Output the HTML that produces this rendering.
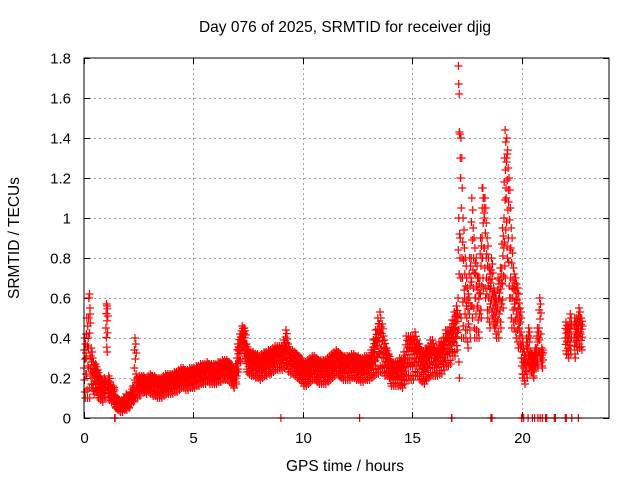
<!DOCTYPE html>
<html><head><meta charset="utf-8"><style>
html,body{margin:0;padding:0;background:#fff;}
svg{display:block;font-family:"Liberation Sans",sans-serif;}
</style></head><body>
<svg id="chart" width="640" height="480" viewBox="0 0 640 480">
<text x="345" y="32" font-size="15.5" text-anchor="middle">Day 076 of 2025, SRMTID for receiver djig</text>
<text x="345" y="471" font-size="15.5" text-anchor="middle">GPS time / hours</text>
<text x="19" y="238" font-size="15.5" text-anchor="middle" transform="rotate(-90 19 238)">SRMTID / TECUs</text>
<g id="grid"></g>
<g id="ticks"></g>
<g id="points"></g>
<rect x="84" y="58" width="525" height="360" fill="none" stroke="#000" stroke-width="1"/>
</svg>
<script>
const xTicks = [0,5,10,15,20];
const yTicks = [0,0.2,0.4,0.6,0.8,1,1.2,1.4,1.6,1.8];
const yTickLabels = ["0","0.2","0.4","0.6","0.8","1","1.2","1.4","1.6","1.8"];
const startHour = 0;
const binHours = 0.1;
const baseValues = [
.25,.3,.35,.25,.2,.2,.17,.15,.13,.15,
.45,.15,.12,.12,.08,.07,.06,.06,.07,.08,
.08,.1,.12,.25,.15,.16,.17,.17,.16,.17,
.17,.16,.16,.15,.15,.15,.16,.17,.17,.17,
.17,.18,.18,.19,.2,.2,.19,.19,.2,.2,
.2,.21,.21,.22,.22,.22,.23,.22,.22,.22,
.22,.23,.23,.24,.24,.24,.23,.22,.2,.22,
.3,.35,.4,.38,.3,.28,.27,.27,.26,.26,
.25,.26,.27,.27,.28,.28,.29,.3,.3,.3,
.3,.32,.35,.3,.28,.28,.27,.26,.25,.24,
.22,.22,.23,.24,.25,.25,.24,.23,.23,.23,
.23,.24,.25,.26,.27,.28,.27,.26,.25,.25,
.25,.25,.26,.26,.25,.25,.24,.24,.25,.25,
.25,.27,.3,.33,.36,.38,.35,.3,.28,.26,
.22,.22,.22,.22,.23,.22,.25,.3,.3,.3,
.3,.32,.3,.28,.26,.25,.27,.28,.3,.3,
.28,.28,.3,.3,.32,.35,.35,.36,.4,.42,
.45,.6,.9,.7,.6,.5,.6,.8,.65,.6,
.55,.7,.9,.85,.7,.6,.65,.55,.5,.55,
.6,.75,1.0,1.1,.9,.7,.6,.55,.5,.45,
.3,.25,.3,.35,.28,.25,.3,.35,.45,.3,
null,null,null,null,null,null,null,null,null,null,
.4,.38,.42,null,.4,.42,.45,.42];
const spreadValues = [
.15,.2,.25,.1,.08,.07,.07,.06,.05,.05,
.12,.06,.04,.04,.03,.03,.03,.03,.03,.04,
.03,.03,.04,.15,.05,.05,.04,.04,.04,.04,
.05,.05,.05,.05,.05,.05,.05,.05,.05,.05,
.05,.05,.05,.05,.05,.05,.05,.05,.05,.05,
.05,.05,.05,.05,.05,.05,.05,.05,.05,.05,
.05,.05,.05,.05,.05,.05,.05,.05,.05,.05,
.07,.07,.06,.07,.07,.06,.06,.06,.06,.06,
.06,.06,.06,.06,.06,.06,.06,.06,.06,.06,
.06,.07,.09,.07,.06,.06,.06,.06,.06,.06,
.06,.06,.06,.06,.06,.06,.06,.06,.06,.06,
.06,.06,.06,.06,.06,.06,.06,.06,.06,.06,
.06,.06,.06,.06,.06,.06,.06,.06,.06,.06,
.06,.07,.09,.11,.14,.15,.12,.09,.07,.06,
.06,.06,.06,.06,.07,.07,.08,.11,.11,.11,
.11,.11,.09,.09,.08,.08,.08,.08,.09,.09,
.07,.07,.08,.08,.08,.09,.09,.09,.09,.11,
.11,.4,.5,.3,.2,.15,.2,.3,.25,.2,
.15,.2,.25,.25,.2,.15,.15,.1,.1,.15,
.15,.2,.3,.3,.3,.25,.15,.15,.15,.1,
.1,.08,.1,.1,.05,.05,.05,.1,.15,.05,
0,0,0,0,0,0,0,0,0,0,
.08,.08,.1,0,.1,.08,.1,.08];
const outlierTimes = [0.22,0.25,0.28,1.05,17.12,17.13,17.15,17.16,17.18,17.2,17.22,18.2,18.25,18.3,19.25,19.28,19.32,19.35,19.4];
const outlierValues = [0.6,0.62,0.52,0.56,1.76,1.67,1.62,1.43,1.42,1.3,1.2,1.15,1.1,1.05,1.44,1.38,1.3,1.32,1.14];
const zeroTimes = [1.4,1.42,9.0,12.6,16.8,16.82,18.6,18.65,20.0,20.02,20.1,20.3,20.5,20.6,20.75,20.85,20.95,21.1,21.15,21.5,21.55,22.0,22.05,22.3,22.6];

const NS = "http://www.w3.org/2000/svg";
const L = 84, R = 609, T = 58, B = 418;
const xMax = 24, yMax = 1.8;
function xs(v){ return L + v / xMax * (R - L); }
function ys(v){ return B - v / yMax * (B - T); }

const grid = document.getElementById('grid');
const ticks = document.getElementById('ticks');
function line(parent, x1, y1, x2, y2, stroke, dash, name){
  const l = document.createElementNS(NS, 'line');
  l.setAttribute('x1', x1); l.setAttribute('y1', y1);
  l.setAttribute('x2', x2); l.setAttribute('y2', y2);
  l.setAttribute('stroke', stroke); l.setAttribute('stroke-width', 1);
  if (dash) l.setAttribute('stroke-dasharray', dash);
  
  
  parent.appendChild(l);
}
function label(x, y, txt, anchor, name){
  const t = document.createElementNS(NS, 'text');
  t.setAttribute('x', x); t.setAttribute('y', y);
  t.setAttribute('font-size', 15);
  t.setAttribute('text-anchor', anchor);
  t.textContent = txt;
  
  
  ticks.appendChild(t);
}
yTicks.forEach((v, i) => {
  const y = Math.round(ys(v)) + 0.5;
  if (v > 0 && v < yMax) line(grid, L, y, R, y, '#a0a0a0', '2,3', 'y-grid-line');
  line(ticks, L, y, L + 6, y, '#000', null, 'y-tick');
  line(ticks, R - 6, y, R, y, '#000', null, 'y-tick-right');
  label(L - 13, y + 5, yTickLabels[i], 'end', 'y-tick-label');
});
xTicks.forEach(v => {
  const x = Math.round(xs(v)) + 0.5;
  if (v > 0) line(grid, x, T, x, B, '#a0a0a0', '2,3', 'x-grid-line');
  line(ticks, x, B - 6, x, B, '#000', null, 'x-tick');
  line(ticks, x, T, x, T + 6, '#000', null, 'x-tick-top');
  label(x, B + 25, String(v), 'middle', 'x-tick-label');
});

const pattern = [0, 0.6, -0.4, 1, -0.8, 0.3, -1, 0.8, -0.2, 0.5];
let d = '';
function plus(t, v){
  const x = xs(t), y = ys(v);
  d += 'M' + (x - 4).toFixed(1) + ' ' + y.toFixed(1) + 'h8M' + x.toFixed(1) + ' ' + (y - 4).toFixed(1) + 'v8';
}
baseValues.forEach((b, i) => {
  if (b === null) return;
  const s = spreadValues[i];
  const t0 = startHour + i * binHours;
  pattern.forEach((k, j) => {
    const v = Math.max(0, b + k * s);
    plus(t0 + j * binHours / pattern.length, v);
  });
});
outlierTimes.forEach((t, i) => plus(t, outlierValues[i]));
zeroTimes.forEach(t => plus(t, 0));
const p = document.createElementNS(NS, 'path');
p.setAttribute('d', d);
p.setAttribute('stroke', '#ff0000');
p.setAttribute('stroke-width', 1.2);
p.setAttribute('fill', 'none');


document.getElementById('points').appendChild(p);
</script>
</body></html>
